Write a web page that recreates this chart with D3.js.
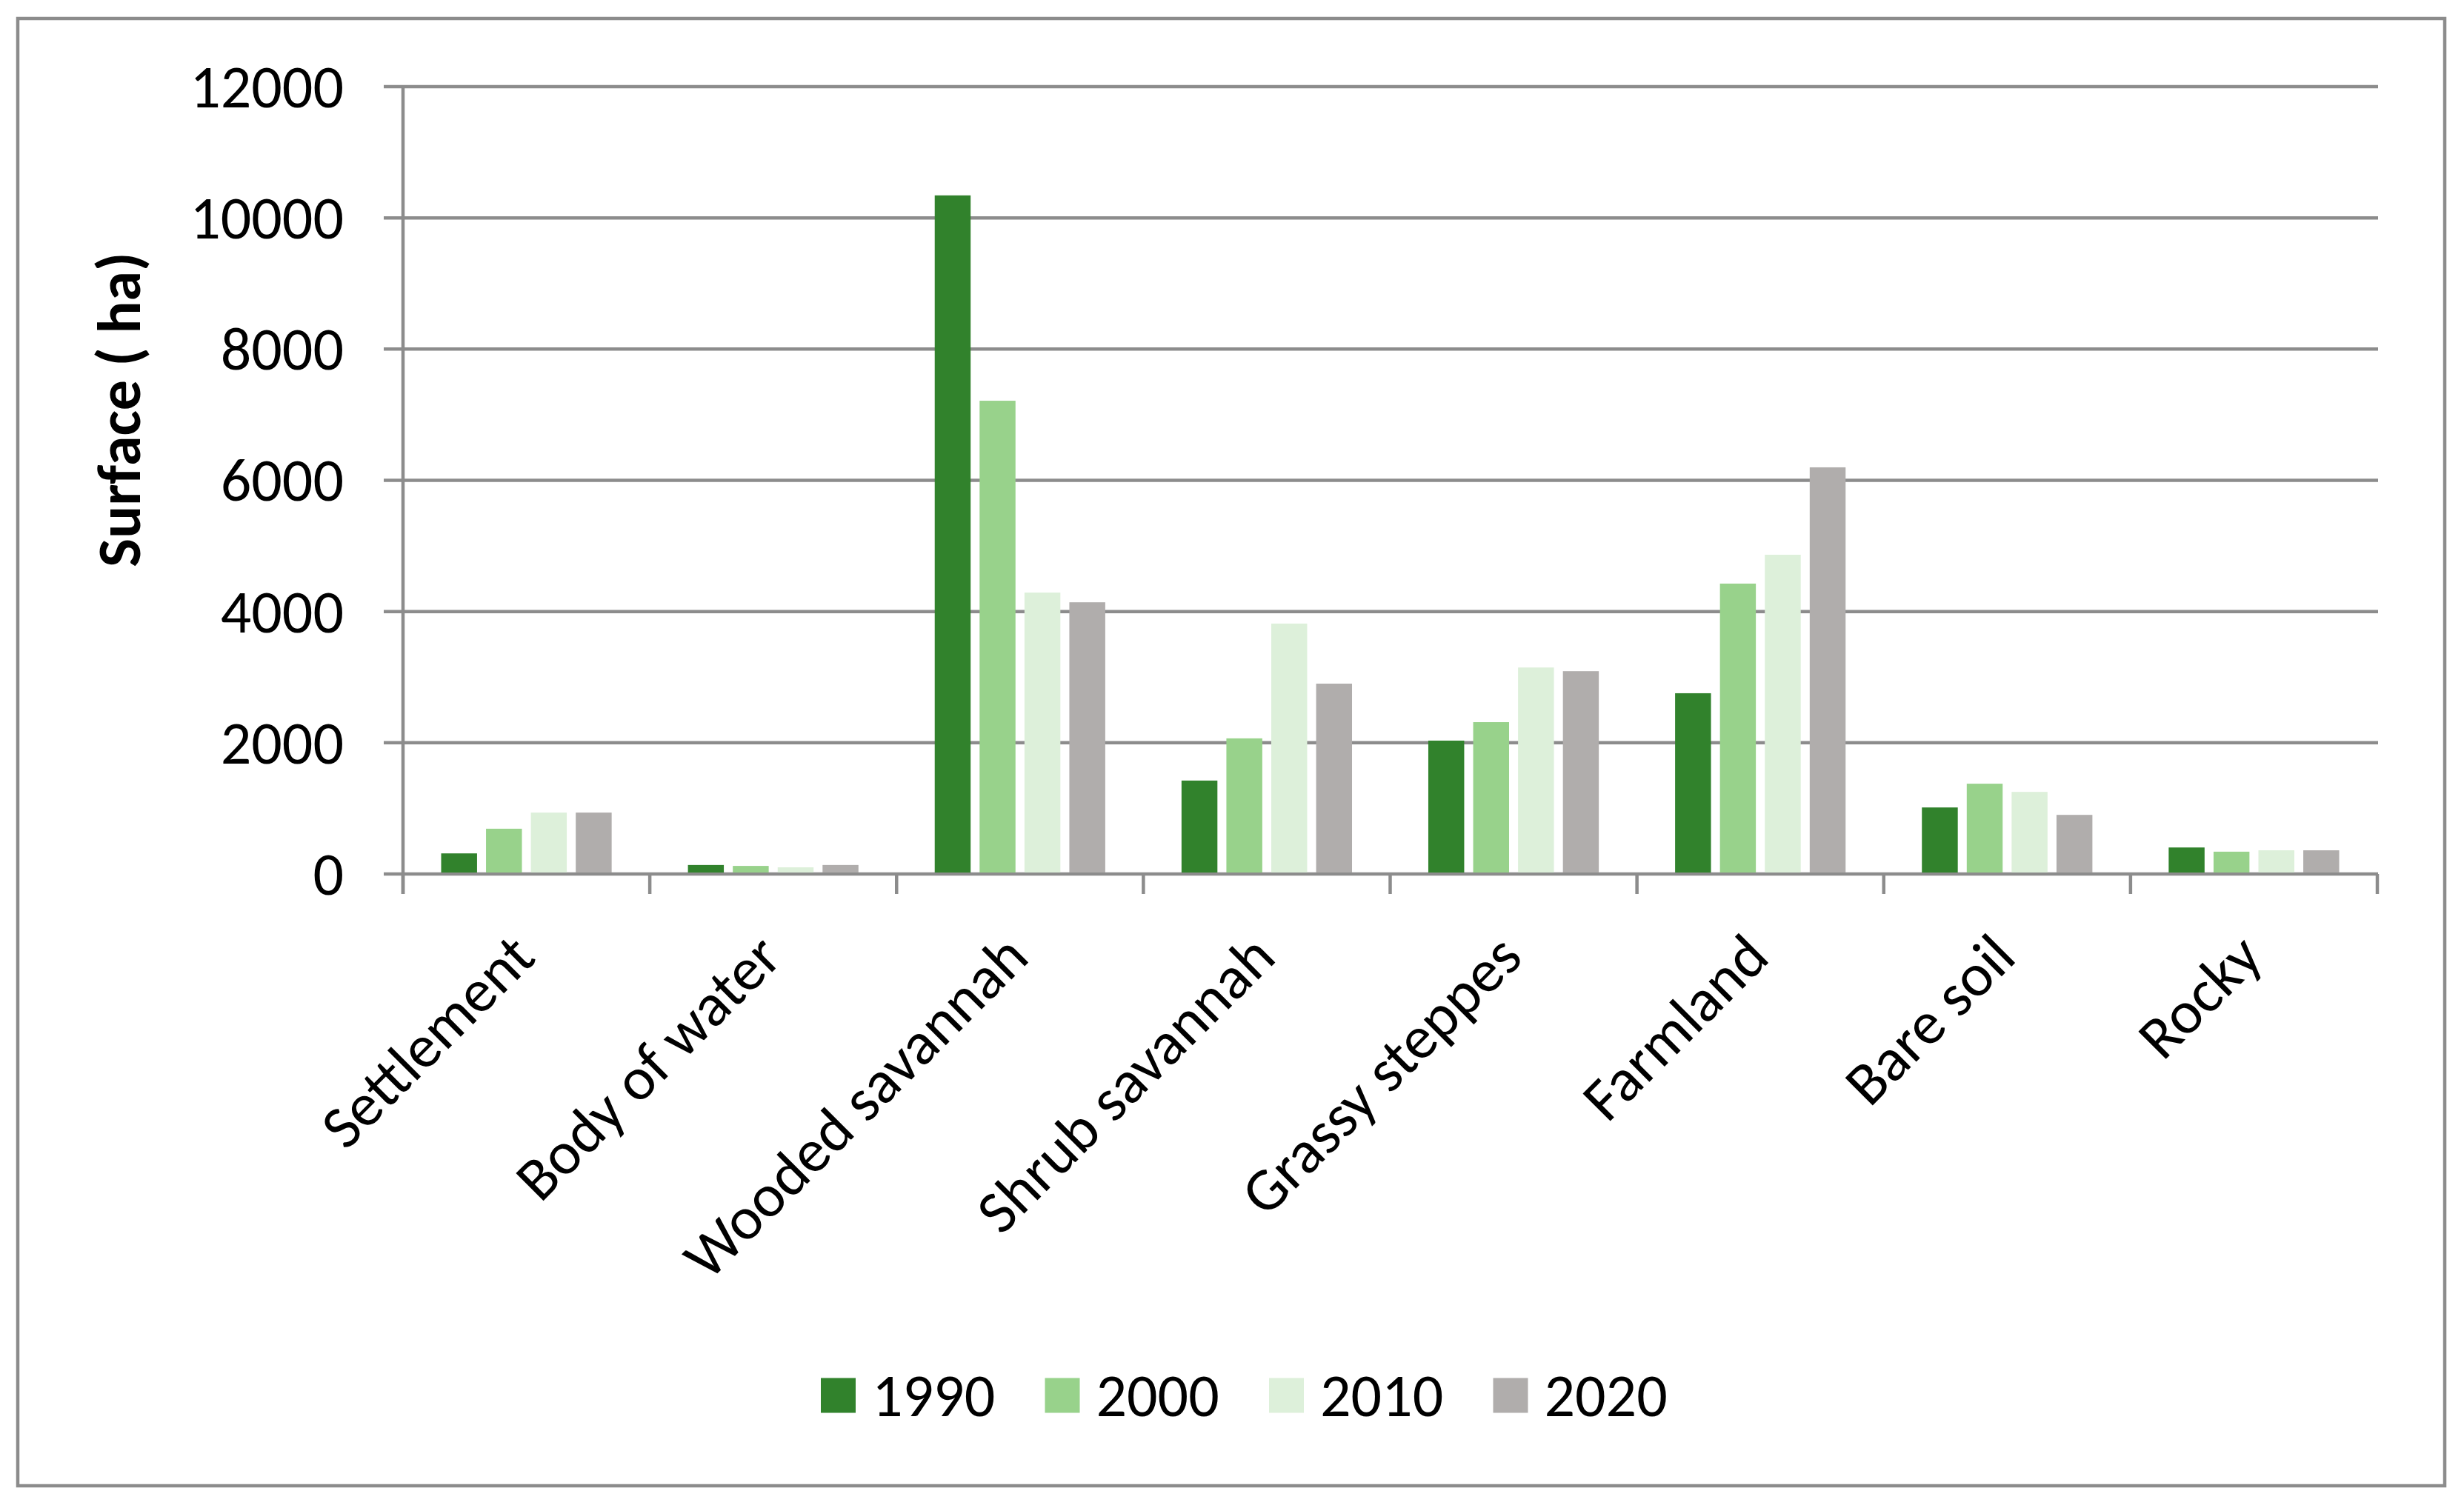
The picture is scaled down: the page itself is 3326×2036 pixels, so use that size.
<!DOCTYPE html>
<html lang="en">
<head>
  <meta charset="UTF-8">
  <title>Land cover surface by year</title>
  <script src="https://d3js.org/d3.v7.min.js"></script>
  <style>
    body { margin: 0; background: #fff; }
    text { font-family: Carlito, "Liberation Sans Narrow", "Open Sans", sans-serif; fill: #000; }
  </style>
</head>
<body>
  <svg width="3326" height="2036"></svg>

  <script>
    // Data
    const categories = ["Settlement", "Body of water", "Wooded savannah", "Shrub savannah",
                        "Grassy steppes", "Farmland", "Bare soil", "Rocky"];
    const years = ["1990", "2000", "2010", "2020"];
    const values1990 = [314, 137, 10343, 1424, 2033, 2755, 1014, 404];
    const values2000 = [690, 123, 7213, 2067, 2314, 4426, 1376, 340];
    const values2010 = [936, 102, 4289, 3817, 3147, 4866, 1251, 361];
    const values2020 = [936, 137, 4141, 2901, 3091, 6198, 901, 361];
    const yTicks = [0, 2000, 4000, 6000, 8000, 10000, 12000];
    const colors = ["#31822c", "#98d28b", "#ddf0da", "#b0adac"];

    const series = [values1990, values2000, values2010, values2020];
    const rows = categories.map((c, i) => ({
      category: c,
      values: years.map((y, j) => ({ year: y, value: series[j][i] }))
    }));

    const svg = d3.select("svg");
    const grey = "#8c8c8c";

    // plot area
    const plotLeft = 544, plotRight = 3209, plotTop = 117, plotBottom = 1180;

    svg.append("rect")
      .attr("x", 24).attr("y", 25)
      .attr("width", 3276).attr("height", 1981)
      .attr("fill", "#fff")
      .attr("stroke", grey)
      .attr("stroke-width", 4.5);

    const x0 = d3.scaleBand().domain(categories).range([plotLeft, plotRight]);
    const x1 = d3.scaleBand().domain(years).range([0, x0.bandwidth()])
      .paddingInner(0.2).paddingOuter(0.85);
    const y = d3.scaleLinear().domain([0, 12000]).range([plotBottom, plotTop]);

    // gridlines (with the little outside tick on the left)
    svg.append("g")
      .selectAll("line")
      .data(yTicks)
      .join("line")
      .attr("x1", plotLeft - 26).attr("x2", plotRight + 1)
      .attr("y1", d => y(d)).attr("y2", d => y(d))
      .attr("stroke", grey)
      .attr("stroke-width", 4.5);

    // y tick labels
    svg.append("g")
      .selectAll("text")
      .data(yTicks)
      .join("text")
      .attr("x", 464)
      .attr("y", d => y(d))
      .attr("dy", "0.34em")
      .attr("text-anchor", "end")
      .attr("font-size", 82)
      .text(d => d);

    // y axis line
    svg.append("line")
      .attr("x1", plotLeft).attr("x2", plotLeft)
      .attr("y1", plotTop).attr("y2", plotBottom + 27)
      .attr("stroke", grey)
      .attr("stroke-width", 4.5);

    // category boundary ticks
    const bounds = categories.map(c => x0(c)).concat([plotRight]);
    svg.append("g")
      .selectAll("line")
      .data(bounds)
      .join("line")
      .attr("x1", d => d).attr("x2", d => d)
      .attr("y1", plotBottom).attr("y2", plotBottom + 27)
      .attr("stroke", grey)
      .attr("stroke-width", 4.5);

    // bars
    const group = svg.append("g")
      .selectAll("g")
      .data(rows)
      .join("g")
      .attr("transform", d => `translate(${x0(d.category)},0)`);

    group.selectAll("rect")
      .data(d => d.values)
      .join("rect")
      .attr("x", d => x1(d.year))
      .attr("width", x1.bandwidth())
      .attr("y", d => y(d.value))
      .attr("height", d => y(0) - y(d.value) - 2)
      .attr("fill", (d, i) => colors[i]);

    // rotated category labels
    svg.append("g")
      .selectAll("text")
      .data(categories)
      .join("text")
      .attr("transform", d => `translate(${x0(d) + x0.bandwidth() / 2 + 15},1296) rotate(-45)`)
      .attr("text-anchor", "end")
      .attr("font-size", 82)
      .text(d => d);

    // y axis title
    svg.append("text")
      .attr("transform", "translate(189,553) rotate(-90)")
      .attr("text-anchor", "middle")
      .attr("font-size", 82)
      .attr("font-weight", "bold")
      .text("Surface ( ha)");

    // legend
    const legendStep = 302.5, legendX = 1108, legendY = 1884;
    const legend = svg.append("g")
      .selectAll("g")
      .data(years)
      .join("g")
      .attr("transform", (d, i) => `translate(${legendX + i * legendStep},${legendY})`);

    legend.append("rect")
      .attr("x", 0).attr("y", -23.5)
      .attr("width", 47).attr("height", 47)
      .attr("fill", (d, i) => colors[i]);

    legend.append("text")
      .attr("x", 69)
      .attr("dy", "0.34em")
      .attr("font-size", 82)
      .text(d => d);
  </script>
</body>
</html>
